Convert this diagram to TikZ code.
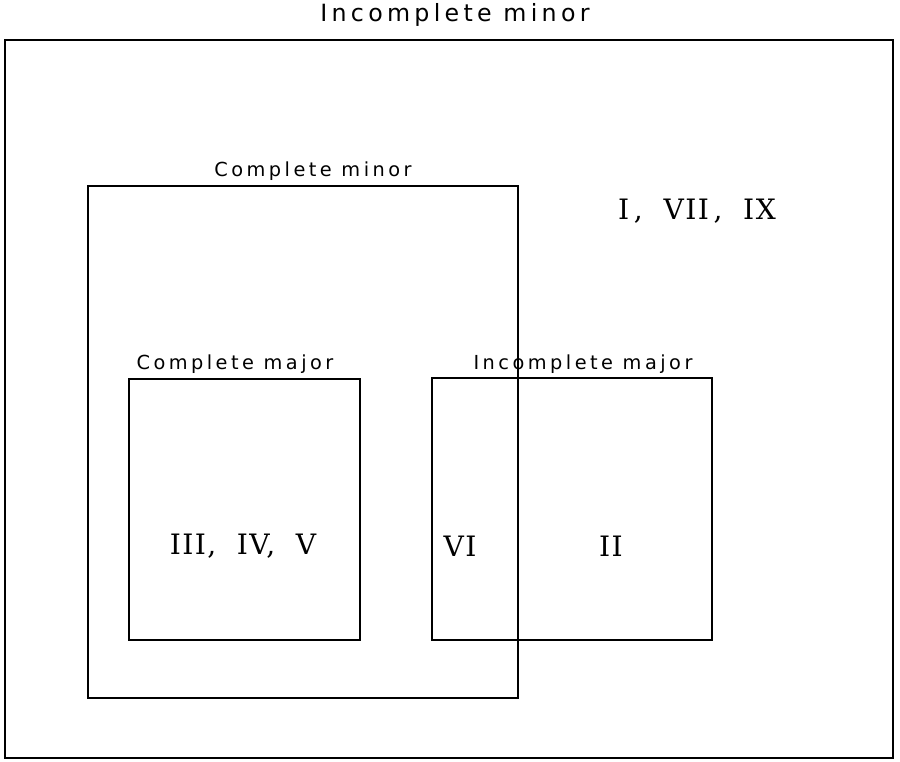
\documentclass[tikz,border=0pt]{standalone}
\usepackage{fontspec}
\newfontfamily\setlabelfont[LetterSpace=18]{DejaVu Sans}
\newfontfamily\numeralfont[LetterSpace=5]{DejaVu Serif}
\tikzset{
  setbox/.style={line width=1pt},
  setname/.style={font=\setlabelfont\fontsize{11}{13}\selectfont, inner sep=0pt},
  outername/.style={setname, font=\setlabelfont\fontsize{13.5}{15}\selectfont},
  numerals/.style={font=\numeralfont\fontsize{16}{19}\selectfont, inner sep=0pt}
}
\begin{document}
\begin{tikzpicture}[scale=1.0]
\useasboundingbox (0,0) rectangle (18,15.24);
% the four sets
\draw[setbox] (0.1,0.08) rectangle (17.86,14.44);
\draw[setbox] (1.76,1.28) rectangle (10.36,11.52);
\draw[setbox] (2.58,2.44) rectangle (7.2,7.66);
\draw[setbox] (8.64,2.44) rectangle (14.24,7.68);
% set names
\node[outername] (incminor) at (9.1,14.94) {Incomplete minor};
\node[setname] (compminor) at (6.26,11.82) {Complete minor};
\node[setname] (compmajor) at (4.7,7.96) {Complete major};
\node[setname] (incmajor) at (11.66,7.96) {Incomplete major};
% members
\node[numerals] (outside) at (13.94,11.02) {I\,,\ \ VII\,,\ \ IX};
\node[numerals] (inmajor) at (4.86,4.32) {III,\ \ IV,\ \ V};
\node[numerals] (overlap) at (9.2,4.32) {VI};
\node[numerals] (onlyinc) at (12.22,4.32) {II};
\end{tikzpicture}
\end{document}
